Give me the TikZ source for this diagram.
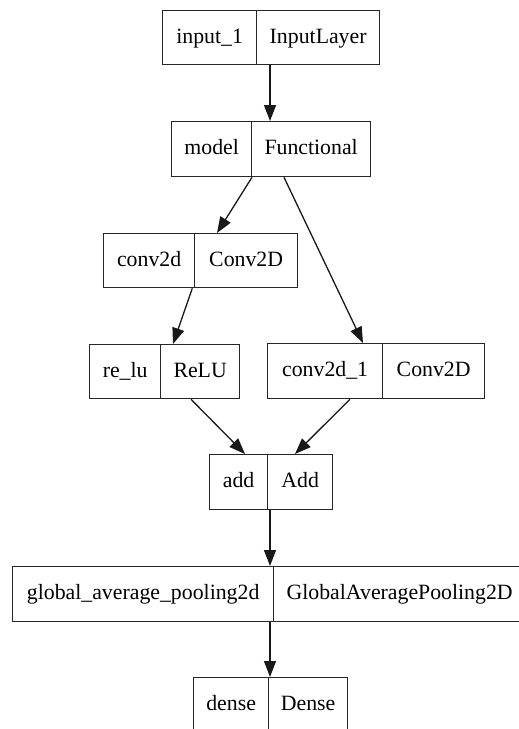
\documentclass[tikz,border=0pt]{standalone}
\usepackage{fontspec}
\setmainfont{Liberation Serif}
\usetikzlibrary{arrows.meta,calc}
\begin{document}
\begin{tikzpicture}[x=1pt,y=-1pt,
  cell/.style={draw=black!85, line width=1.3pt, rectangle, inner sep=0pt, anchor=north west,
    minimum height=55pt, text height=16pt, text depth=5pt,
    font=\fontsize{21.8}{26}\selectfont},
  conn/.style={draw=black!90, line width=1.3pt, -{Triangle[length=16pt,width=12pt]}}]
\useasboundingbox (0,0) rectangle (519,729);
% input_1
\node[cell, minimum width=94pt, minimum height=54pt] (inL) at (162,10) {input\_1};
\node[cell, minimum width=123pt, minimum height=54pt] (inR) at (256,10) {InputLayer};
% model
\node[cell, minimum width=80pt] (mdL) at (171,121) {model};
\node[cell, minimum width=119pt] (mdR) at (251,121) {Functional};
% conv2d
\node[cell, minimum width=91pt, minimum height=54pt] (cvL) at (103,233) {conv2d};
\node[cell, minimum width=103pt, minimum height=54pt] (cvR) at (194,233) {Conv2D};
% re_lu
\node[cell, minimum width=71pt, minimum height=54pt] (rlL) at (89,344) {re\_lu};
\node[cell, minimum width=79pt, minimum height=54pt] (rlR) at (160,344) {ReLU};
% conv2d_1
\node[cell, minimum width=115pt] (c1L) at (267,343) {conv2d\_1};
\node[cell, minimum width=102pt] (c1R) at (382,343) {Conv2D};
% add
\node[cell, minimum width=58pt] (adL) at (209,454) {add};
\node[cell, minimum width=65pt] (adR) at (267,454) {Add};
% global
\node[cell, minimum width=261pt] (gpL) at (12,566) {global\_average\_pooling2d};
\node[cell, minimum width=252pt] (gpR) at (273,566) {GlobalAveragePooling2D};
% dense
\node[cell, minimum width=75pt] (dnL) at (193,677) {dense};
\node[cell, minimum width=79pt] (dnR) at (268,677) {Dense};
% connectors
\draw[conn] ([xshift=14pt]inR.south west) -- ([xshift=19pt]mdR.north west);
\draw[conn] ([xshift=1pt]mdR.south west) -- ([xshift=23pt]cvR.north west);
\draw[conn] ([xshift=33pt]mdR.south west) -- ([xshift=96pt]c1L.north west);
\draw[conn] ([xshift=-3pt]cvL.south east) -- ([xshift=13pt]rlR.north west);
\draw[conn] ([xshift=31pt]rlR.south west) -- ([xshift=36pt]adL.north west);
\draw[conn] ([xshift=83pt]c1L.south west) -- ([xshift=28pt]adR.north west);
\draw[conn] ([xshift=3pt]adR.south west) -- ([xshift=-3pt]gpR.north west);
\draw[conn] ([xshift=-3pt]gpR.south west) -- ([xshift=2pt]dnR.north west);
\end{tikzpicture}
\end{document}
